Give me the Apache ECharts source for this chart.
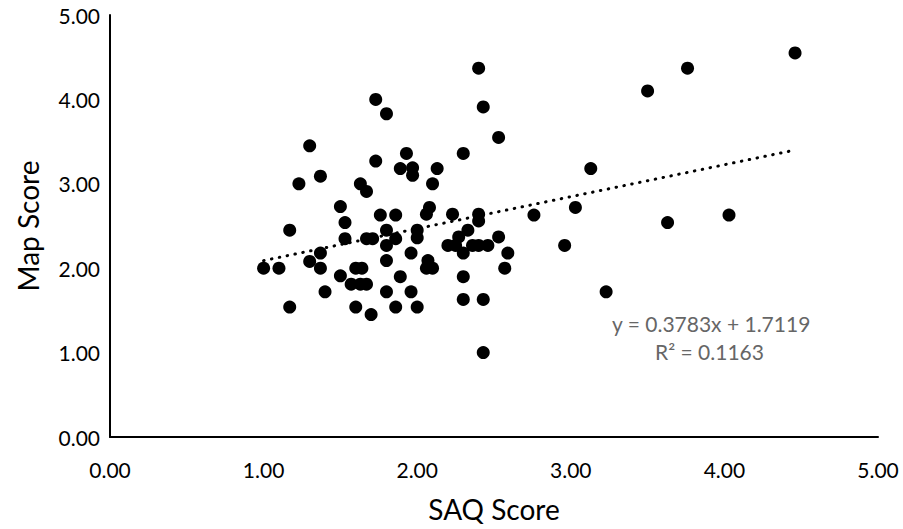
<!DOCTYPE html>
<html><head><meta charset="utf-8">
<script src="https://cdn.jsdelivr.net/npm/echarts@6/dist/echarts.min.js"></script>
<style>html,body{margin:0;padding:0;background:#fff}#c{width:903px;height:529px}</style>
</head><body><div id="c"></div>
<script>
const saqScores = [1.00,1.10,1.17,1.17,1.23,1.30,1.30,1.37,1.37,1.37,1.40,1.50,1.53,1.53,1.50,1.57,1.60,1.64,1.63,1.67,1.60,1.63,1.67,1.67,1.71,1.70,1.73,1.80,1.73,1.76,1.86,1.80,1.80,1.86,1.80,1.80,1.86,1.93,1.89,1.97,1.97,1.89,1.96,1.96,2.00,2.00,2.00,2.10,2.13,2.08,2.06,2.07,2.06,2.10,2.23,2.20,2.25,2.27,2.30,2.33,2.30,2.30,2.30,2.36,2.40,2.46,2.40,2.40,2.40,2.43,2.53,2.53,2.59,2.57,2.43,2.43,2.76,2.96,3.03,3.13,3.23,3.50,3.76,3.63,4.03,4.46];
const mapScores = [2.00,2.00,2.45,1.54,3.00,3.45,2.08,3.09,2.18,2.00,1.72,2.73,2.54,2.35,1.91,1.81,2.00,2.00,1.81,1.81,1.54,3.00,2.91,2.35,2.35,1.45,4.00,3.83,3.27,2.63,2.63,2.45,2.27,2.35,2.09,1.72,1.54,3.36,3.18,3.19,3.10,1.90,2.18,1.72,2.45,2.36,1.54,3.00,3.18,2.72,2.64,2.09,2.00,2.00,2.64,2.27,2.27,2.37,3.36,2.45,2.18,1.90,1.63,2.27,2.27,2.27,2.64,2.56,4.37,3.91,3.55,2.37,2.18,2.00,1.63,1.00,2.63,2.27,2.72,3.18,1.72,4.10,4.37,2.54,2.63,4.55];
const trendX = [1.00, 4.46];
const trendY = [2.09, 3.40];
const xTickLabels = ['0.00','1.00','2.00','3.00','4.00','5.00'];
const yTickLabels = ['0.00','1.00','2.00','3.00','4.00','5.00'];
const equationText = 'y = 0.3783x + 1.7119';
const rSquaredText = 'R² = 0.1163';
const xTitle = 'SAQ Score';
const yTitle = 'Map Score';

const FONT = 'Lato';
const points = saqScores.map((x, i) => [x, mapScores[i]]);
const trend = trendX.map((x, i) => [x, trendY[i]]);

const chart = echarts.init(document.getElementById('c'), null, {renderer: 'svg'});
chart.setOption({
  animation: false,
  backgroundColor: '#fff',
  grid: {left: 110, right: 25, top: 15, bottom: 92, containLabel: false},
  xAxis: {
    type: 'value', min: 0, max: 5, interval: 1,
    name: xTitle, nameLocation: 'middle', nameGap: 58,
    nameTextStyle: {fontFamily: FONT, fontSize: 28, color: '#000'},
    axisLine: {show: true, onZero: false, lineStyle: {color: '#000', width: 2}},
    axisTick: {show: false},
    splitLine: {show: false},
    axisLabel: {fontFamily: FONT, fontSize: 21, color: '#000', margin: 22,
      formatter: v => xTickLabels[Math.round(v)]}
  },
  yAxis: {
    type: 'value', min: 0, max: 5, interval: 1,
    name: yTitle, nameLocation: 'middle', nameGap: 68,
    nameTextStyle: {fontFamily: FONT, fontSize: 28, color: '#000'},
    axisLine: {show: true, onZero: false, lineStyle: {color: '#000', width: 2}},
    axisTick: {show: false},
    splitLine: {show: false},
    axisLabel: {fontFamily: FONT, fontSize: 21, color: '#000', margin: 10,
      formatter: v => yTickLabels[Math.round(v)]}
  },
  series: [
    {
      type: 'line', data: trend, symbol: 'none', z: 1,
      lineStyle: {color: '#000', width: 3, type: [0.5, 7.5], cap: 'round'}
    },
    {
      type: 'scatter', data: points, symbol: 'circle', symbolSize: 13, z: 2,
      itemStyle: {color: '#000', opacity: 1}
    }
  ],
  graphic: [
    {type: 'text', left: 612, top: 313, style: {text: equationText, fontFamily: FONT, fontSize: 21, fill: '#666'}},
    {type: 'text', left: 655, top: 341, style: {text: rSquaredText, fontFamily: FONT, fontSize: 21, fill: '#666'}}
  ]
});
</script>
</body></html>
